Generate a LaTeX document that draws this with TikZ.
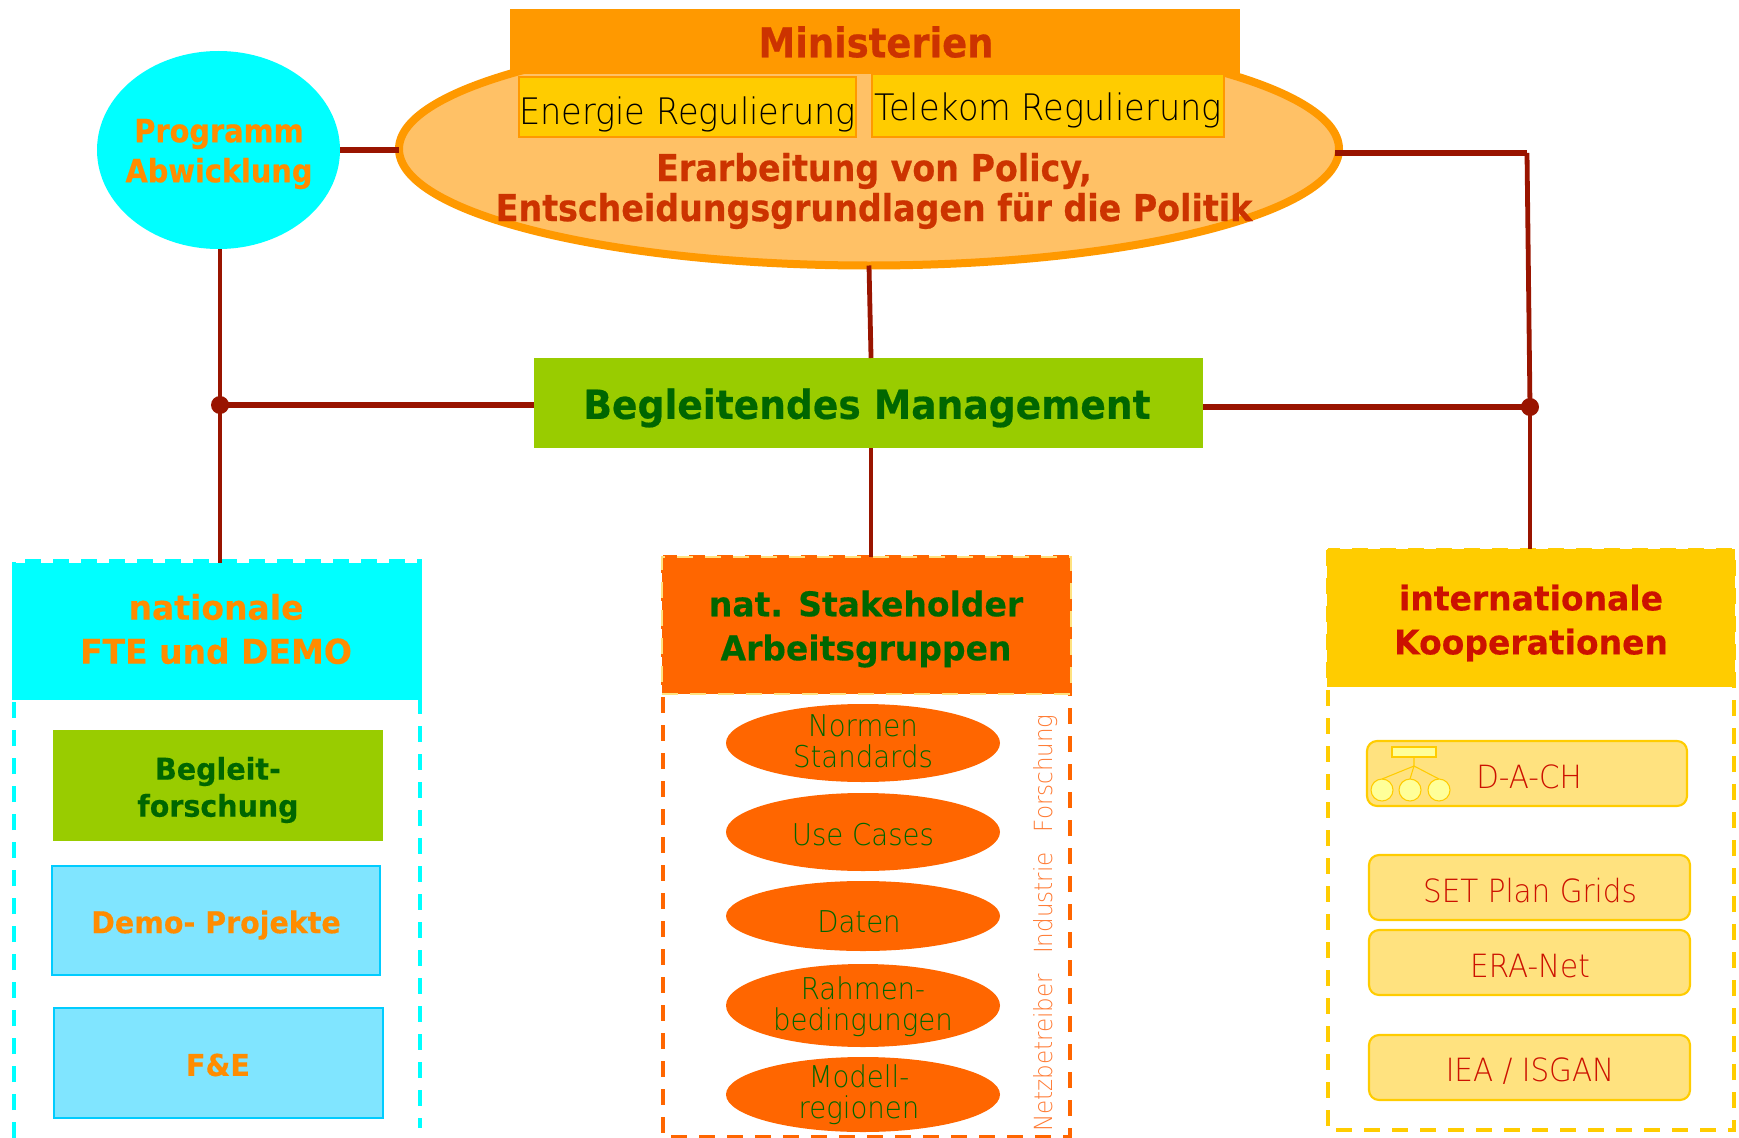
\documentclass[tikz,border=0pt]{standalone}
\usepackage{fontspec}
\usetikzlibrary{shapes.geometric}
\setmainfont{DejaVu Sans}
\newfontfamily\ltf{DejaVu Sans ExtraLight}[FakeStretch=0.92]
\newfontfamily\cbf{DejaVu Sans Condensed Bold}[FakeBold=0.6]
\newfontfamily\bdf{DejaVu Sans Bold}[FakeStretch=0.97,FakeBold=0.4]
\newfontfamily\bdb{DejaVu Sans Bold}[FakeStretch=0.95,FakeBold=0.4]
\newfontfamily\bdm{DejaVu Sans Bold}[FakeStretch=0.94,FakeBold=0.5]
\newcommand{\fsz}[2]{\fontsize{\dimexpr #1pt*3/4\relax}{\dimexpr #2pt*3/4\relax}\selectfont}
\definecolor{aqua}{HTML}{00FFFF}
\definecolor{conn}{HTML}{991400}
\definecolor{minfill}{HTML}{FF9900}
\definecolor{polfill}{HTML}{FFC166}
\definecolor{polred}{HTML}{CC3300}
\definecolor{gold}{HTML}{FFCC00}
\definecolor{paleg}{HTML}{FFE27F}
\definecolor{intred}{HTML}{CC1100}
\definecolor{dgreen}{HTML}{006600}
\definecolor{lime}{HTML}{99CC00}
\definecolor{darko}{HTML}{FF6600}
\definecolor{txto}{HTML}{FF8C00}
\definecolor{skyf}{HTML}{80E5FF}
\definecolor{skyd}{HTML}{00CCFF}
\definecolor{rotxt}{HTML}{FF7A33}
\definecolor{iconf}{HTML}{FFFF99}
\tikzset{
  sz/.style 2 args={minimum width=#1*0.75pt,minimum height=#2*0.75pt,inner sep=0pt,outer sep=0pt},
  lab/.style={inner sep=0pt,outer sep=0pt,align=center},
  bigbold/.style={lab,text=polred,font=\cbf\fsz{37}{40}},
  headbold/.style={lab,font=\bdf\fsz{34}{44}},
  boxbold/.style={lab,font=\bdb\fsz{30}{37}},
  thin/.style={lab,font=\ltf\fsz{30}{31}},
  thinint/.style={lab,text=intred,font=\ltf\fsz{32}{32}},
  conline/.style={draw=conn,line width=3.9pt},
  midline/.style={draw=conn,line width=3.6pt},
  dot/.style={circle,fill=conn,minimum size=13.5pt,inner sep=0pt,outer sep=0pt},
  frame/.style={line width=3pt,dash pattern=on 12pt off 9pt},
  skybox/.style={draw=skyd,fill=skyf,line width=1.5pt},
  intbox/.style={draw=gold,fill=paleg,line width=1.6pt,rounded corners=7.5pt},
  regbox/.style={draw=minfill,fill=gold,line width=1.5pt},
  midell/.style={ellipse,fill=darko},
  icon/.style={draw=gold,fill=iconf,line width=0.8pt},
}
\begin{document}
\begin{tikzpicture}[x=0.75pt,y=-0.75pt]
\useasboundingbox (0,0) rectangle (1739,1138);
% top shapes
\node[ellipse,fill=aqua,sz={243}{198}] (prog) at (218.5,150) {};
\node[ellipse,draw=minfill,fill=polfill,line width=6pt,sz={940}{233}] (pol) at (869,149) {};
\node[fill=minfill,sz={730}{65}] (min) at (875,41.5) {};
\node[regbox,sz={337}{60}] (en) at (687.5,107) {};
\node[regbox,sz={352}{63}] (tel) at (1048,105.5) {};
\node[fill=lime,sz={669}{90}] (mgmt) at (868.5,403) {};
% headers and frames
\draw[aqua,frame] (14,1138) -- (14,561) -- (420,561) -- (420,1128);
\node[fill=aqua,sz={410}{137}] (hl) at (217,631.5) {};
\draw[darko,frame] (663,557) rectangle (1070,1137);
\node[fill=darko,draw=paleg,line width=1.2pt,dash pattern=on 12pt off 9pt,sz={409}{137}] (hm) at (866.5,625.5) {};
\draw[gold,frame] (1328,550) rectangle (1734,1130);
\node[fill=gold,sz={408}{138}] (hr) at (1531,618) {};
% connectors
\coordinate (jl) at (220,405);
\coordinate (rt) at (1527,153);
\coordinate (jr) at (1530,407);
\draw[conline] (prog.east) -- (prog.east -| pol.west);
\draw[midline] (jl |- prog.south) -- (jl |- hl.north);
\draw[conline] (jl) -- (jl -| mgmt.west);
\draw[midline] (pol.south) -- ([xshift=1.9pt]mgmt.north);
\draw[midline] ([xshift=1.9pt]mgmt.south) -- ([xshift=3.4pt]hm.north);
\draw[conline] ([xshift=-3pt]rt -| pol.east) -- (rt);
\draw[midline] (rt) -- (jr);
\draw[midline] (jr) -- (jr |- hr.north);
\draw[conline] (jr -| mgmt.east) -- (jr);
\node[dot] (dl) at (jl) {};
\node[dot] (dr) at (jr) {};
% top texts
\node[lab,text=txto,font=\cbf\fsz{32}{40}] (progt) at (219,154) {Programm\\Abwicklung};
\node[bigbold,font=\cbf\fsz{41}{41}] (mint) at (876,42) {Ministerien};
\node[lab,font=\ltf\fsz{36.5}{37}] (ent) at (687.5,114) {Energie Regulierung};
\node[lab,font=\ltf\fsz{36.5}{37}] (telt) at (1048,110) {Telekom Regulierung};
\node[bigbold] (polt) at (874,191) {Erarbeitung von Policy,\\Entscheidungsgrundlagen für die Politik};
\node[lab,text=dgreen,font=\bdm\fsz{40}{40}] (mgmtt) at (867,408) {Begleitendes Management};
% left column
\node[headbold,text=txto] (hlt) at (216,629) {nationale\\FTE und DEMO};
\node[fill=lime,sz={330}{111}] (beg) at (218,785.5) {};
\node[boxbold,text=dgreen] (begt) at (218,790) {Begleit-\\forschung};
\node[skybox,sz={328}{109}] (demo) at (216,920.5) {};
\node[boxbold,text=txto] (demot) at (216,925) {Demo- Projekte};
\node[skybox,sz={329}{110}] (fe) at (218.5,1063) {};
\node[boxbold,text=txto] (fet) at (218,1065) {F\&E};
% middle column
\node[headbold,text=dgreen] (hmt) at (866,629) {nat. Stakeholder\\Arbeitsgruppen};
\node[midell,sz={274}{78}] (e1) at (863,743) {};
\node[midell,sz={274}{78}] (e2) at (863,832) {};
\node[midell,sz={274}{70}] (e3) at (863,916) {};
\node[midell,sz={274}{83}] (e4) at (863,1005.5) {};
\node[midell,sz={274}{75}] (e5) at (863,1094.5) {};
\node[thin,text=dgreen] (t1) at (863,741) {Normen\\Standards};
\node[thin,text=dgreen] (t2) at (863,835) {Use Cases};
\node[thin,text=dgreen] (t3) at (859,922) {Daten};
\node[thin,text=dgreen] (t4) at (863,1006.5) {Rahmen-\\bedingungen};
\node[thin,text=dgreen] (t5) at (859,1094.5) {Modell-\\regionen};
\node[lab,rotate=90,text=rotxt,font=\ltf\fsz{25}{25}] (rot) at (1046,923) {Netzbetreiber\hspace{15pt}Industrie\hspace{15pt}Forschung};
% right column
\node[headbold,text=intred] (hrt) at (1531,623) {internationale\\Kooperationen};
\node[intbox,sz={320}{65}] (dach) at (1527,773.5) {};
\node[intbox,sz={321}{65}] (set) at (1529.5,887.5) {};
\node[intbox,sz={321}{65}] (era) at (1529.5,962.5) {};
\node[intbox,sz={321}{65}] (iea) at (1529.5,1067.5) {};
\node[thinint] (dacht) at (1529,777) {D-A-CH};
\node[thinint] (sett) at (1530,891) {SET Plan Grids};
\node[thinint] (erat) at (1530,966) {ERA-Net};
\node[thinint] (ieat) at (1530,1071) {IEA / ISGAN};
% organisation icon
\coordinate (ibus) at (1414,766);
\node[icon,sz={44}{10}] (ir) at (1414,752) {};
\node[icon,circle,sz={22}{22}] (ic1) at (1382,790) {};
\node[icon,circle,sz={22}{22}] (ic2) at (1410,790) {};
\node[icon,circle,sz={22}{22}] (ic3) at (1439,790) {};
\draw[gold,line width=0.8pt] (ir.south) -- (ibus) (ibus) -- (ic1.north) (ibus) -- (ic2.north) (ibus) -- (ic3.north);
\end{tikzpicture}
\end{document}
